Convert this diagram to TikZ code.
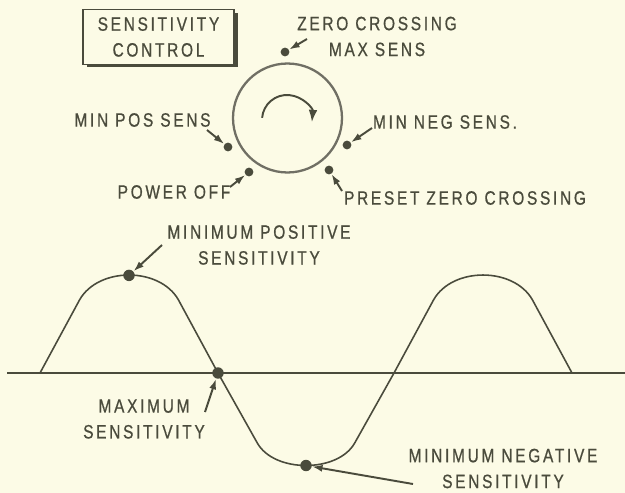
\documentclass[tikz,border=0pt]{standalone}
\usepackage{fontspec}
\usepackage{tikz}
\usetikzlibrary{arrows.meta}
\newfontfamily\lettering[FakeStretch=0.8,LetterSpace=14,FakeBold=0.7]{Liberation Sans}
\definecolor{paper}{HTML}{FCFBE6}
\definecolor{ink}{HTML}{4A4B3C}
\definecolor{rim}{HTML}{706F64}

\begin{document}
\begin{tikzpicture}[x=0.02cm, y=-0.02cm,
  lbl/.style={text=ink, font=\lettering\fontsize{11}{14.7}\selectfont, align=center, inner sep=0pt},
  dot/.style={circle, fill=ink, inner sep=0pt, minimum size=5pt},
  bigdot/.style={dot, minimum size=6.5pt},
  ptr/.style={-{Latex[length=6pt,width=4pt]}, ink, line width=1.1pt},
  wave/.style={ink, line width=0.9pt, line join=round}]
\fill[paper] (0,0) rectangle (625,493);
\useasboundingbox (0,0) rectangle (625,493);
% control panel legend and dial
\fill[ink] (87,13) rectangle (237.5,67.5);
\node[lbl, draw=ink, fill=paper, line width=0.9pt, minimum width=3.02cm, minimum height=1.1cm] (ctrl) at (158.5,37) {SENSITIVITY\\CONTROL};
\node[circle, draw=rim, line width=1.3pt, minimum size=2.18cm, inner sep=0pt] (dial) at (287.5,118) {};
\draw[ink, line width=1.1pt, -{Latex[length=7pt,width=5pt]}] (262.1,117.8) arc[start angle=-175, end angle=5, radius=25];
\node[lbl] (zc) at (377,36.5) {ZERO CROSSING\\MAX SENS};
\node[lbl] (minpos) at (142.5,120) {MIN POS SENS};
\node[lbl] (off) at (174,192) {POWER OFF};
\node[lbl] (minneg) at (445,122) {MIN NEG SENS.};
\node[lbl] (preset) at (465,198) {PRESET ZERO CROSSING};
\node[dot] (dzc) at (285,52) {};
\node[dot] (dminpos) at (228,147) {};
\node[dot] (doff) at (249,172) {};
\node[dot] (dminneg) at (347,145) {};
\node[dot] (dpreset) at (329,170) {};
\coordinate (tzc) at (307,39);
\coordinate (tminpos) at (207,130);
\coordinate (toff) at (230,187);
\coordinate (tminneg) at (372,128);
\coordinate (tpreset) at (342,191);
\draw[ptr] (tzc) -- (dzc); \draw[ptr] (tminpos) -- (dminpos); \draw[ptr] (toff) -- (doff);
\draw[ptr] (tminneg) -- (dminneg); \draw[ptr] (tpreset) -- (dpreset);
% waveform
\coordinate (axl) at (7,373); \coordinate (axr) at (625,373);
\draw[wave, line width=0.8pt] (axl) -- (axr);
\draw[wave] (40,373) -- (79.5,300) .. controls (98.2,266.7) and (159.8,266.7) .. (178.5,300) -- (218,373)
  -- (257.3,443) .. controls (274.2,473) and (337.8,473) .. (354.7,443) -- (394,373)
  -- (433.5,300) .. controls (452.2,266.7) and (513.8,266.7) .. (532.5,300) -- (572,373);
\node[bigdot] (dtop) at (129,275.4) {};
\node[bigdot] (dcross) at (218,373) {};
\node[bigdot] (dbot) at (306,465.5) {};
\node[lbl] (mps) at (259,245) {MINIMUM POSITIVE\\SENSITIVITY};
\node[lbl] (maxs) at (144,419) {MAXIMUM\\SENSITIVITY};
\node[lbl] (mns) at (503,468.5) {MINIMUM NEGATIVE\\SENSITIVITY};
\coordinate (tmps) at (162,245);
\coordinate (tmaxs) at (205,412);
\coordinate (tmns) at (413,484);
\draw[ptr] (tmps) -- (dtop); \draw[ptr] (tmaxs) -- (dcross); \draw[ptr] (tmns) -- (dbot);
\end{tikzpicture}
\end{document}
